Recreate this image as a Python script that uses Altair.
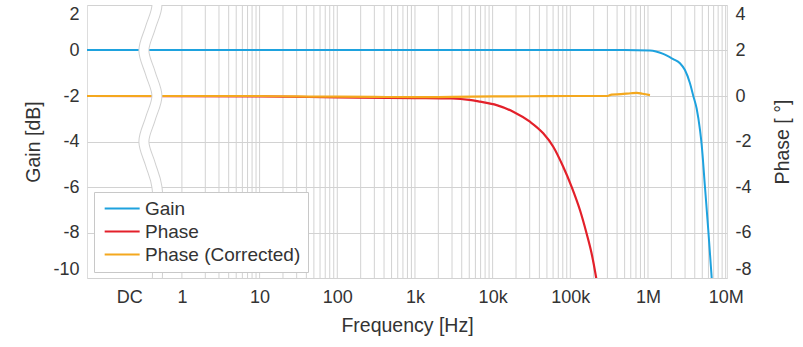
import altair as alt
import pandas as pd

# ---- data ----
gain_freq = [0.06, 10, 1e3, 1e5, 5e5, 1.06e6, 1.57e6, 2.11e6, 2.58e6, 2.99e6, 3.47e6,
             3.83e6, 4.23e6, 4.67e6, 4.91e6, 5.41e6, 5.97e6, 6.59e6, 6.8e6]
gain_db = [0.02, 0.02, 0.02, 0.02, 0.02, 0.0, -0.15, -0.38, -0.56, -0.86, -1.44,
           -2.0, -2.55, -3.49, -4.15, -5.99, -7.89, -9.94, -10.6]

phase_freq = [0.06, 10, 100, 1e3, 3e3, 5e3, 6.86e3, 1.125e4, 1.84e4, 3.02e4, 4.48e4,
              6.03e4, 8.1e4, 1.04e5, 1.33e5, 1.62e5, 1.88e5, 2.14e5, 2.3e5]
phase_deg = [0.0, -0.02, -0.06, -0.09, -0.11, -0.17, -0.25, -0.4, -0.69, -1.13, -1.64,
             -2.23, -3.11, -3.99, -5.01, -6.04, -6.92, -7.94, -8.6]

corr_freq = [0.06, 1, 10, 30, 100, 300, 1e3, 3e3, 1e4, 3e4, 1e5, 3e5, 3.4e5, 4.5e5,
             6e5, 7.2e5, 8.5e5, 1.06e6]
corr_deg = [0.0, 0.0, 0.0, -0.02, -0.03, -0.04, -0.05, -0.04, -0.02, -0.01, 0.0,
            0.0, 0.06, 0.08, 0.12, 0.14, 0.1, 0.04]

series_names = ["Gain", "Phase", "Phase (Corrected)"]
series_colors = ["#1ea2de", "#e3202a", "#f4a81e"]

# axis ticks
x_tick_values = [0.21, 1, 10, 100, 1e3, 1e4, 1e5, 1e6, 1e7]
x_tick_labels = ["DC", "1", "10", "100", "1k", "10k", "100k", "1M", "10M"]
grid_decades = [1, 10, 100, 1e3, 1e4, 1e5, 1e6]
grid_mult = [1, 2, 3, 4, 5, 6, 7, 8, 9]
gain_ticks = [-10, -8, -6, -4, -2, 0, 2]
phase_ticks = [-8, -6, -4, -2, 0, 2, 4]

# axis-break decoration (wavy band) control points
band_freq = [0.393, 0.477, 0.393, 0.324, 0.393, 0.477, 0.393, 0.324, 0.393, 0.477, 0.477]
band_gain = [3.0, 2.0, 1.0, 0.0, -1.0, -2.0, -3.0, -4.0, -5.0, -6.0, -10.5]

# ---- tables ----
grid_vals = [d * m for d in grid_decades for m in grid_mult] + [1e7]
grid_df = pd.DataFrame({"freq": grid_vals})
gain_df = pd.DataFrame({"freq": gain_freq, "val": gain_db, "series": "Gain"})
phase_df = pd.concat([
    pd.DataFrame({"freq": phase_freq, "val": phase_deg, "series": "Phase"}),
    pd.DataFrame({"freq": corr_freq, "val": corr_deg, "series": "Phase (Corrected)"}),
])
band_df = pd.DataFrame({"freq": band_freq, "val": band_gain, "i": list(range(len(band_freq)))})

FONT = "Liberation Sans"
TXT = "#333333"
LBL = 18
TTL = 19.5

label_expr = "[" + ",".join("'" + s + "'" for s in x_tick_labels) + "][indexof([" + \
    ",".join(repr(v) for v in x_tick_values) + "], datum.value)]"

xscale = alt.Scale(type="log", domain=[0.06, 1.04e7], nice=False)
xaxis = alt.Axis(values=x_tick_values, labelExpr=label_expr, title="Frequency [Hz]",
                 grid=False, ticks=False, domain=False, labelPadding=10, titlePadding=10,
                 labelFontSize=LBL, titleFontSize=TTL, labelFont=FONT, titleFont=FONT,
                 labelColor=TXT, titleColor=TXT, titleFontWeight="normal")


def X():
    return alt.X("freq:Q", scale=xscale, axis=xaxis)


legend = alt.Legend(orient="none", legendX=7, legendY=187, title=None,
                    symbolType="M-1,0H5", symbolSize=136, symbolStrokeWidth=2,
                    labelFontSize=19, labelFont=FONT, labelColor=TXT, labelOffset=25,
                    padding=7, rowPadding=3, strokeColor="#c8c8c8", fillColor="white",
                    labelLimit=400)
color = alt.Color("series:N", scale=alt.Scale(domain=series_names, range=series_colors),
                  legend=legend)

grid = alt.Chart(grid_df).mark_rule(color="#d2d2d2", strokeWidth=1).encode(x=X())

num_expr = "'' + datum.value"

gain = alt.Chart(gain_df).mark_line(strokeWidth=2, clip=True, interpolate="monotone").encode(
    x=X(),
    y=alt.Y("val:Q", scale=alt.Scale(domain=[-10, 2], nice=False, zero=False),
            axis=alt.Axis(values=gain_ticks, orient="left", title="Gain [dB]",
                          labelExpr=num_expr, labelFlush=True,
                          grid=True, gridColor="#d2d2d2", ticks=False, domain=False,
                          labelPadding=8, titlePadding=9, labelFontSize=LBL,
                          titleFontSize=TTL, labelFont=FONT, titleFont=FONT,
                          labelColor=TXT, titleColor=TXT, titleFontWeight="normal")),
    color=color,
)

phase = alt.Chart(phase_df).mark_line(strokeWidth=2.2, clip=True, interpolate="monotone").encode(
    x=X(),
    y=alt.Y("val:Q", scale=alt.Scale(domain=[-8, 4], nice=False, zero=False),
            axis=alt.Axis(values=phase_ticks, orient="right", title="Phase [ °]",
                          labelExpr=num_expr, labelFlush=True,
                          grid=False, ticks=False, domain=False, labelPadding=8,
                          titlePadding=22, titleAngle=270, titleBaseline="top",
                          labelFontSize=LBL, titleFontSize=TTL, labelFont=FONT,
                          titleFont=FONT, labelColor=TXT, titleColor=TXT,
                          titleFontWeight="normal")),
    color=color,
)

band_y = alt.Y("val:Q", scale=alt.Scale(domain=[-10, 2], nice=False, zero=False), axis=None)
band_outline = alt.Chart(band_df).mark_line(
    color="#d0d0d0", strokeWidth=11, clip=True, interpolate="catmull-rom"
).encode(x=X(), y=band_y, order="i:Q")
band_fill = alt.Chart(band_df).mark_line(
    color="white", strokeWidth=9, clip=True, interpolate="catmull-rom"
).encode(x=X(), y=band_y, order="i:Q")

chart = alt.layer(grid, gain, phase, band_outline, band_fill).resolve_scale(
    y="independent"
).properties(
    width=640, height=273,
    autosize=alt.AutoSizeParams(type="none"),
    padding={"left": 87, "top": 5, "right": 76, "bottom": 69},
).configure_view(stroke="#555555", strokeWidth=1.5).configure(background="white")

chart.save("out.html", embed_options={"renderer": "svg", "actions": False})
